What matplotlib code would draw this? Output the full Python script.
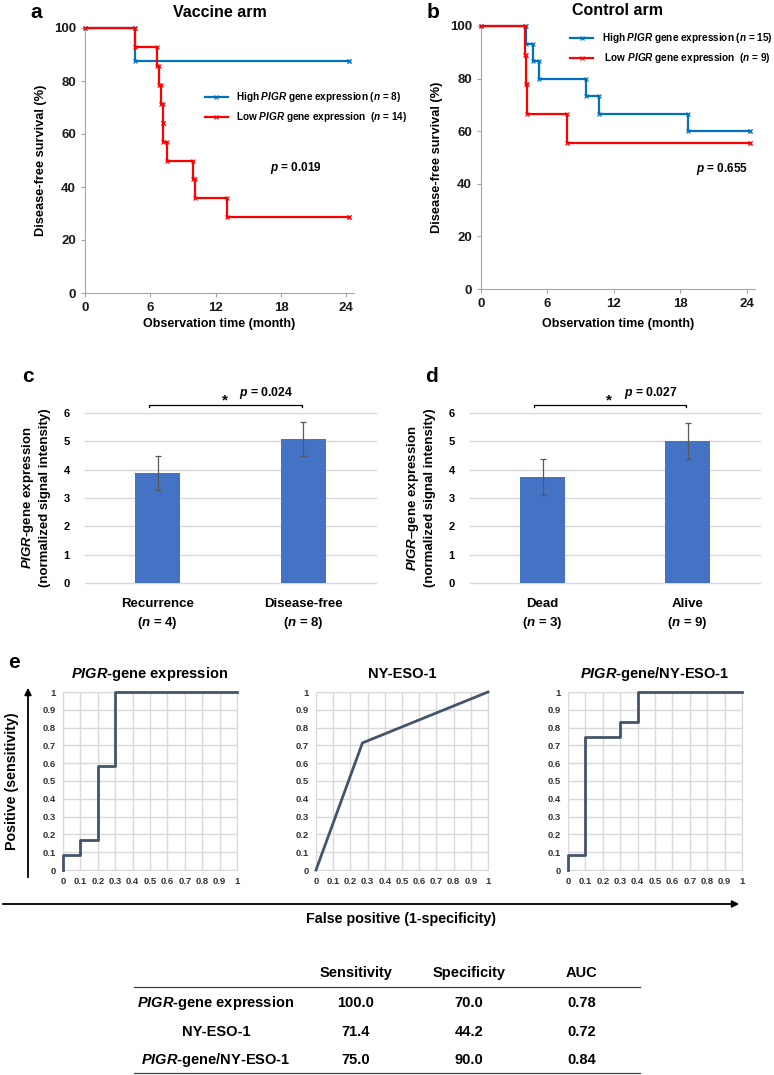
import numpy as np
import matplotlib
matplotlib.use("Agg")
import matplotlib.pyplot as plt

plt.rcParams["font.family"] = ["Liberation Sans", "DejaVu Sans"]
plt.rcParams["font.weight"] = "bold"
plt.rcParams["axes.titleweight"] = "bold"
plt.rcParams["axes.labelweight"] = "bold"
plt.rcParams["mathtext.fontset"] = "custom"
plt.rcParams["mathtext.it"] = "Liberation Sans:italic:bold"
plt.rcParams["mathtext.rm"] = "Liberation Sans:bold"
plt.rcParams["mathtext.bf"] = "Liberation Sans:bold"

# ── Data ───────────────────────────────────────────────────────────────
# (a) vaccine arm, Kaplan-Meier (time in months, survival %)
vac_high_t = [0, 4.6, 24.2]
vac_high_s = [100, 87.5, 87.5]
vac_low_t = [0, 4.6, 6.65, 6.8, 7.0, 7.12, 7.2, 7.5, 9.95, 10.1, 13.0, 24.2]
vac_low_s = [100, 92.9, 85.7, 78.6, 71.4, 64.3, 57.1, 50.0, 42.9, 35.7, 28.6, 28.6]

# (b) control arm
ctl_high_t = [0, 4.05, 4.7, 5.25, 9.5, 10.65, 18.7, 24.3]
ctl_high_s = [100, 93.3, 86.7, 80.0, 73.3, 66.7, 60.0, 60.0]
ctl_low_t = [0, 4.0, 4.08, 4.15, 7.8, 24.3]
ctl_low_s = [100, 88.9, 77.8, 66.7, 55.6, 55.6]

# (c) recurrence vs disease-free
c_groups = ["Recurrence", "Disease-free"]
c_n = [4, 8]
c_mean = [3.9, 5.08]
c_err = [0.6, 0.6]

# (d) dead vs alive
d_groups = ["Dead", "Alive"]
d_n = [3, 9]
d_mean = [3.74, 5.0]
d_err = [0.63, 0.63]

# (e) ROC curves (false positive rate, sensitivity)
roc_titles = ["$\\it{PIGR}$-gene expression", "NY-ESO-1", "$\\it{PIGR}$-gene/NY-ESO-1"]
roc1_fpr = [0, 0, 0.1, 0.1, 0.2, 0.2, 0.3, 0.3, 1.0]
roc1_tpr = [0, 0.083, 0.083, 0.167, 0.167, 0.583, 0.583, 1.0, 1.0]
roc2_fpr = [0, 0.27, 1.0]
roc2_tpr = [0, 0.714, 1.0]
roc3_fpr = [0, 0, 0.1, 0.1, 0.3, 0.3, 0.4, 0.4, 1.0]
roc3_tpr = [0, 0.083, 0.083, 0.75, 0.75, 0.833, 0.833, 1.0, 1.0]

# table
tbl_rows = ["$\\it{PIGR}$-gene expression", "NY-ESO-1", "$\\it{PIGR}$-gene/NY-ESO-1"]
tbl_cols = ["Sensitivity", "Specificity", "AUC"]
tbl_sens = ["100.0", "71.4", "75.0"]
tbl_spec = ["70.0", "44.2", "90.0"]
tbl_auc = ["0.78", "0.72", "0.84"]

BLUE = "#0070C0"
RED = "#FF0000"
BAR = "#4472C4"
ROC = "#44546A"
GRID = "#D9D9D9"
SPINE = "#A6A6A6"

W, H = 774, 1075
fig = plt.figure(figsize=(W / 100, H / 100), dpi=100)


def box(x0, y0, x1, y1):
    return [x0 / W, 1 - y1 / H, (x1 - x0) / W, (y1 - y0) / H]


def step_xy(t, s):
    xs, ys = [t[0]], [s[0]]
    for i in range(1, len(t)):
        xs += [t[i], t[i]]
        ys += [s[i - 1], s[i]]
    return xs, ys


def km_axes(ax, series, xmax):
    for t, s, col in series:
        xs, ys = step_xy(t, s)
        ax.plot(xs, ys, color=col, lw=1.6, marker="x", ms=3, mew=0.8, clip_on=False, zorder=3)
    ax.set_xlim(0, xmax)
    ax.set_ylim(0, 100)
    ax.set_xticks([0, 6, 12, 18, 24])
    ax.set_yticks([0, 20, 40, 60, 80, 100])
    for sp in ["top", "right"]:
        ax.spines[sp].set_visible(False)
    for sp in ["left", "bottom"]:
        ax.spines[sp].set_color(SPINE)
    ax.tick_params(colors=SPINE, labelcolor="#1a1a1a", labelsize=9.5, length=3, width=0.8)


def km_legend(ax, x, ys, labels, cols):
    for y, lab, col in zip(ys, labels, cols):
        ax.plot([x, x + 0.085], [y, y], color=col, lw=1.6,
                transform=ax.transAxes, clip_on=False)
        ax.plot([x + 0.0425], [y], color=col, marker="x", ms=3, mew=0.8,
                transform=ax.transAxes, clip_on=False)
        ax.text(x + 0.115, y, lab, transform=ax.transAxes, fontsize=7.2, va="center", ha="left")


# ── (a) Vaccine arm ────────────────────────────────────────────────────
ax_a = fig.add_axes(box(85, 28, 354, 293))
km_axes(ax_a, [(vac_high_t, vac_high_s, BLUE), (vac_low_t, vac_low_s, RED)], 24.7)
km_legend(ax_a, 0.446, [0.74, 0.665],
          ["High $\\it{PIGR}$ gene expression ($\\it{n}$ = 8)",
           "Low $\\it{PIGR}$ gene expression  ($\\it{n}$ = 14)"], [BLUE, RED])
ax_a.text(19.4, 47, "$\\it{p}$ = 0.019", fontsize=8.5, ha="center", va="center")
ax_a.set_ylabel("Disease-free survival (%)", fontsize=9.2, labelpad=5)
ax_a.set_xlabel("Observation time (month)", fontsize=9, labelpad=3)
ax_a.set_title("Vaccine arm", fontsize=11.5, pad=8)

# ── (b) Control arm ────────────────────────────────────────────────────
ax_b = fig.add_axes(box(481, 26, 755, 289))
km_axes(ax_b, [(ctl_high_t, ctl_high_s, BLUE), (ctl_low_t, ctl_low_s, RED)], 24.75)
km_legend(ax_b, 0.325, [0.953, 0.877],
          ["High $\\it{PIGR}$ gene expression ($\\it{n}$ = 15)",
           " Low $\\it{PIGR}$ gene expression  ($\\it{n}$ = 9)"], [BLUE, RED])
ax_b.text(21.8, 45.5, "$\\it{p}$ = 0.655", fontsize=8.5, ha="center", va="center")
ax_b.set_ylabel("Disease-free survival (%)", fontsize=9.2, labelpad=5)
ax_b.set_xlabel("Observation time (month)", fontsize=9, labelpad=6)
ax_b.set_title("Control arm", fontsize=11.5, pad=8)


# ── (c)/(d) bar charts ─────────────────────────────────────────────────
def bar_axes(ax, groups, ns, means, errs, ptxt, ylab):
    x = np.arange(len(groups))
    ax.bar(x, means, width=0.31, color=BAR, zorder=3)
    ax.errorbar(x, means, yerr=errs, fmt="none", ecolor="#595959", elinewidth=0.9,
                capsize=2.5, capthick=0.9, zorder=4)
    ax.set_xlim(-0.5, 1.5)
    ax.set_ylim(0, 6)
    ax.set_yticks(range(7))
    ax.yaxis.grid(True, color=GRID, lw=1, zorder=0, clip_on=False)
    for sp in ax.spines.values():
        sp.set_visible(False)
    ax.set_xticks(x)
    ax.set_xticklabels([f"{g}\n($\\it{{n}}$ = {n})" for g, n in zip(groups, ns)], fontsize=9.5,
                       linespacing=1.45)
    ax.tick_params(axis="both", length=0)
    ax.tick_params(axis="y", labelsize=8, pad=11)
    ax.tick_params(axis="x", pad=11)
    ax.plot([-0.06, -0.06, 0.99, 0.99], [6.2, 6.28, 6.28, 6.2], color="black", lw=0.9,
            clip_on=False)
    ax.text(0.46, 6.43, "*", fontsize=11, ha="center", va="center")
    ax.text(0.56, 6.72, ptxt, fontsize=8.8, ha="left", va="center")
    ax.set_ylabel(ylab, fontsize=9.5, labelpad=9, linespacing=1.3)


ax_c = fig.add_axes(box(85, 413, 376, 583))
bar_axes(ax_c, c_groups, c_n, c_mean, c_err, "$\\it{p}$ = 0.024",
         "$\\it{PIGR}$-gene expression\n(normalized signal intensity)")
ax_d = fig.add_axes(box(470, 413, 760, 583))
bar_axes(ax_d, d_groups, d_n, d_mean, d_err, "$\\it{p}$ = 0.027",
         "$\\it{PIGR}$\u2013gene expression\n(normalized signal intensity)")

# ── (e) ROC curves ─────────────────────────────────────────────────────
roc_boxes = [(63, 692, 237, 870), (316, 692, 488, 870), (568, 692, 742, 870)]
roc_data = [(roc1_fpr, roc1_tpr), (roc2_fpr, roc2_tpr), (roc3_fpr, roc3_tpr)]
ticks = np.round(np.arange(0, 1.01, 0.1), 1)
tick_lab = ["0"] + [f"{v:.1f}" for v in ticks[1:-1]] + ["1"]
for bx, (fx, ty), title in zip(roc_boxes, roc_data, roc_titles):
    ax = fig.add_axes(box(*bx))
    ax.plot(fx, ty, color=ROC, lw=2, zorder=3, clip_on=False)
    ax.set_xlim(0, 1)
    ax.set_ylim(0, 1)
    ax.set_xticks(ticks)
    ax.set_yticks(ticks)
    ax.set_xticklabels(tick_lab)
    ax.set_yticklabels(tick_lab)
    ax.grid(True, color=GRID, lw=1)
    for sp in ax.spines.values():
        sp.set_color(GRID)
    ax.tick_params(length=0, labelsize=6.8, labelcolor="#333333", pad=5)
    ax.set_title(title, fontsize=10.5, pad=10)

# overlay in pixel coordinates for arrows, labels and the table
ov = fig.add_axes([0, 0, 1, 1])
ov.set_xlim(0, W)
ov.set_ylim(H, 0)
ov.axis("off")
ov.patch.set_alpha(0)

ov.annotate("", xy=(28, 685), xytext=(28, 880),
            arrowprops=dict(arrowstyle="-|>", lw=1.3, color="black", mutation_scale=10))
ov.annotate("", xy=(742, 904), xytext=(0, 904),
            arrowprops=dict(arrowstyle="-|>", lw=1.3, color="black", mutation_scale=10))
ov.text(12, 781, "Positive (sensitivity)", rotation=90, fontsize=10.3, ha="center", va="center")
ov.text(401, 919, "False positive (1-specificity)", fontsize=10.3, ha="center", va="center")

# panel letters
for lab, x, y in [("a", 36, 13), ("b", 433, 13), ("c", 28, 377), ("d", 431, 377), ("e", 14, 662)]:
    ov.text(x, y, lab, fontsize=15, ha="center", va="center")

# table
col_x = [356, 469, 582]
row_y = [1003, 1032, 1060]
for cx, cname in zip(col_x, tbl_cols):
    ov.text(cx, 973, cname, fontsize=10.5, ha="center", va="center")
ov.plot([134, 640], [987, 987], color="#404040", lw=0.9)
ov.plot([134, 640], [1073, 1073], color="#404040", lw=0.9)
for ry, rname, s, sp, a in zip(row_y, tbl_rows, tbl_sens, tbl_spec, tbl_auc):
    ov.text(216, ry, rname, fontsize=10.5, ha="center", va="center")
    for cx, v in zip(col_x, [s, sp, a]):
        ov.text(cx, ry, v, fontsize=10.5, ha="center", va="center")

fig.savefig("out.png", dpi=100)
